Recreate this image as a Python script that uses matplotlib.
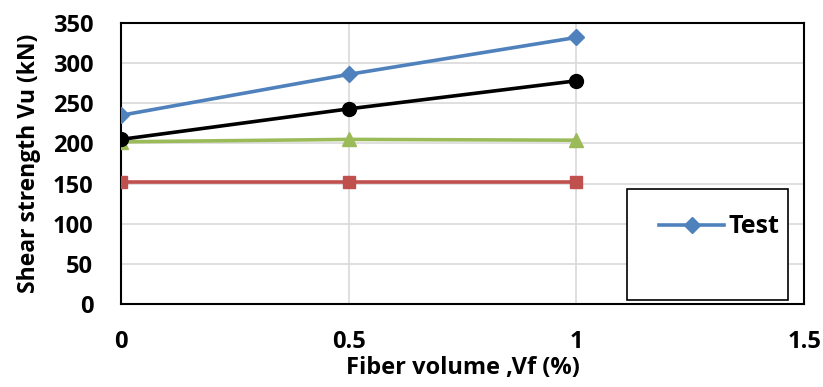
import matplotlib
matplotlib.use("Agg")
import matplotlib.pyplot as plt
import matplotlib.patches as mpatches

# ── Data ──────────────────────────────────────────────────────────────
vf = [0, 0.5, 1]
test = [235, 286, 332]
black_series = [205, 243, 278]
green_series = [202, 205, 204]
red_series = [152, 152, 152]

x_ticks = [0, 0.5, 1, 1.5]
x_tick_labels = ["0", "0.5", "1", "1.5"]
y_ticks = [0, 50, 100, 150, 200, 250, 300, 350]

plt.rcParams["font.family"] = ["Open Sans", "DejaVu Sans"]

fig = plt.figure(figsize=(8.23, 3.87), dpi=100)
ax = fig.add_axes([0.147, 0.2145, 0.830, 0.7261])

ax.plot(vf, red_series, color="#C0504D", lw=2.6, marker="s", ms=9, zorder=3)
ax.plot(vf, green_series, color="#9BBB59", lw=2.6, marker="^", ms=10, zorder=3)
ax.plot(vf, black_series, color="black", lw=2.6, marker="o", ms=10, zorder=4)
line_test, = ax.plot(vf, test, color="#4F81BD", lw=2.6, marker="D", ms=8, zorder=5,
                     label="Test")

ax.set_xlim(0, 1.5)
ax.set_ylim(0, 350)
ax.set_xticks(x_ticks)
ax.set_xticklabels(x_tick_labels)
ax.set_yticks(y_ticks)
ax.tick_params(axis="both", length=0, labelsize=17)
ax.tick_params(axis="x", pad=19)
ax.tick_params(axis="y", pad=20)
for lbl in ax.get_xticklabels() + ax.get_yticklabels():
    lbl.set_fontweight("bold")

ax.grid(color="#D9D9D9", lw=1.2)
ax.set_axisbelow(True)
for s in ax.spines.values():
    s.set_linewidth(1.5)
    s.set_color("black")

ax.set_xlabel("Fiber volume ,Vf (%)", fontsize=17, fontweight="bold", labelpad=1)
ax.set_ylabel("Shear strength Vu (kN)", fontsize=16.5, fontweight="bold", labelpad=8)

# legend box (taller than its single entry, as in the reference)
ax.add_patch(mpatches.Rectangle((0.741, 0.014), 0.236, 0.395, transform=ax.transAxes,
                                fill=True, facecolor="white", edgecolor="black",
                                lw=1.2, zorder=6))
leg = ax.legend(handles=[line_test], loc="center left", bbox_to_anchor=(0.788, 0.274),
                frameon=False, fontsize=18, handlelength=2.6, handletextpad=0.15,
                borderaxespad=0, borderpad=0)
leg.set_zorder(7)
for t in leg.get_texts():
    t.set_fontweight("bold")

plt.savefig("out.png", dpi=100)
